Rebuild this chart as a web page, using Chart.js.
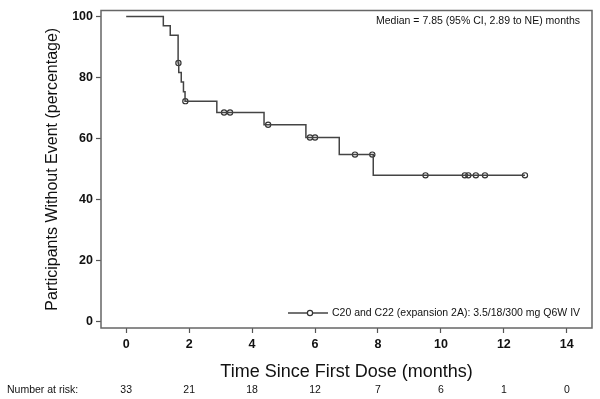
<!DOCTYPE html>
<html>
<head>
<meta charset="utf-8">
<script src="https://cdn.jsdelivr.net/npm/chart.js@4/dist/chart.umd.min.js"></script>
<style>
  html, body { margin: 0; padding: 0; background: #fff; }
  #wrap { width: 600px; height: 399px; }
</style>
</head>
<body>
<div id="wrap"><canvas id="kmChart" width="600" height="399"></canvas></div>
<script>
// Kaplan-Meier curve: times where the survival drops, and the value after the drop
const eventTimes = [0, 1.18, 1.40, 1.65, 1.65, 1.65, 1.67, 1.75, 1.82, 1.87, 2.88, 4.38, 5.71, 6.77, 7.85, 12.67];
const survival   = [100, 97.0, 93.9, 90.9, 87.9, 84.8, 81.7, 78.6, 75.4, 72.3, 68.6, 64.6, 60.4, 54.8, 48.0, 48.0];

// censored observations (circles)
const censorTimes  = [1.66, 1.88, 3.11, 3.30, 4.51, 5.84, 6.00, 7.27, 7.82, 9.51, 10.76, 10.87, 11.11, 11.40, 12.67];
const censorValues = [84.8, 72.3, 68.6, 68.6, 64.6, 60.4, 60.4, 54.8, 54.8, 48.0, 48.0, 48.0, 48.0, 48.0, 48.0];

const xTicks = [0, 2, 4, 6, 8, 10, 12, 14];
const yTicks = [0, 20, 40, 60, 80, 100];
const atRisk = [33, 21, 18, 12, 7, 6, 1, 0];

const seriesLabel = 'C20 and C22 (expansion 2A): 3.5/18/300 mg Q6W IV';
const medianText = 'Median = 7.85 (95% CI, 2.89 to NE) months';

const FONT = "'Liberation Sans Narrow', 'Arial Narrow', 'Liberation Sans', Arial, sans-serif";
const LINE_COL = '#444444';

// box round the plot, median text, legend and number-at-risk row
const extras = {
    id: 'extras',
    afterDraw(chart) {
        const c = chart.ctx;
        const a = chart.chartArea;
        const xs = chart.scales.x;
        c.save();
        // frame
        c.strokeStyle = '#666';
        c.lineWidth = 1.5;
        c.strokeRect(a.left, a.top, a.right - a.left, a.bottom - a.top);

        // median annotation
        c.fillStyle = '#111';
        c.font = '10.5px ' + FONT;
        c.textAlign = 'right';
        c.textBaseline = 'middle';
        c.fillText(medianText, 580, 21);

        // legend entry
        const ly = 313;
        c.strokeStyle = LINE_COL;
        c.lineWidth = 1.5;
        c.beginPath();
        c.moveTo(288, ly);
        c.lineTo(328, ly);
        c.stroke();
        c.beginPath();
        c.arc(310, ly, 2.6, 0, Math.PI * 2);
        c.fillStyle = '#fff';
        c.fill();
        c.lineWidth = 1.2;
        c.strokeStyle = '#333';
        c.stroke();
        c.fillStyle = '#111';
        c.textAlign = 'left';
        c.fillText(seriesLabel, 332, ly);

        // number at risk
        c.font = '10.5px ' + FONT;
        c.fillText('Number at risk:', 7, 390);
        c.textAlign = 'center';
        xTicks.forEach((t, i) => {
            c.fillText(String(atRisk[i]), xs.getPixelForValue(t), 390);
        });
        c.restore();
    }
};

const ctx = document.getElementById('kmChart').getContext('2d');

new Chart(ctx, {
    type: 'line',
    data: {
        datasets: [
            {
                label: seriesLabel,
                data: eventTimes.map((t, i) => ({ x: t, y: survival[i] })),
                stepped: 'before',
                borderColor: LINE_COL,
                borderWidth: 1.5,
                pointRadius: 0,
                fill: false
            },
            {
                label: 'censored',
                data: censorTimes.map((t, i) => ({ x: t, y: censorValues[i] })),
                showLine: false,
                pointStyle: 'circle',
                pointRadius: 2.6,
                pointBorderWidth: 1.2,
                pointBorderColor: '#333',
                pointBackgroundColor: 'rgba(255,255,255,0)'
            }
        ]
    },
    options: {
        responsive: false,
        animation: false,
        layout: { padding: { top: 5, right: 8, bottom: 0, left: 0 } },
        plugins: {
            legend: { display: false },
            tooltip: { enabled: false }
        },
        scales: {
            x: {
                type: 'linear',
                min: -0.8,
                max: 14.8,
                afterBuildTicks: s => { s.ticks = xTicks.map(v => ({ value: v })); },
                afterFit: s => { s.height = 71; },
                grid: {
                    drawOnChartArea: false,
                    drawTicks: true,
                    tickLength: 5,
                    color: '#555',
                    tickWidth: 1.2
                },
                border: { display: false },
                ticks: {
                    color: '#111',
                    padding: 4,
                    maxRotation: 0,
                    font: { family: FONT, size: 12.5, weight: 'bold' }
                },
                title: {
                    display: true,
                    text: 'Time Since First Dose (months)',
                    color: '#111',
                    padding: { top: 0, bottom: 16 },
                    font: { family: FONT, size: 18 }
                }
            },
            y: {
                min: -2,
                max: 102,
                afterBuildTicks: s => { s.ticks = yTicks.map(v => ({ value: v })); },
                afterFit: s => { s.width = 101; },
                grid: {
                    drawOnChartArea: false,
                    drawTicks: true,
                    tickLength: 5,
                    color: '#555',
                    tickWidth: 1.2
                },
                border: { display: false },
                ticks: {
                    color: '#111',
                    padding: 3,
                    font: { family: FONT, size: 12.5, weight: 'bold' }
                },
                title: {
                    display: true,
                    text: 'Participants Without Event (percentage)',
                    color: '#111',
                    padding: { top: 43, bottom: 0 },
                    font: { family: FONT, size: 16 }
                }
            }
        }
    },
    plugins: [extras]
});
</script>
</body>
</html>
